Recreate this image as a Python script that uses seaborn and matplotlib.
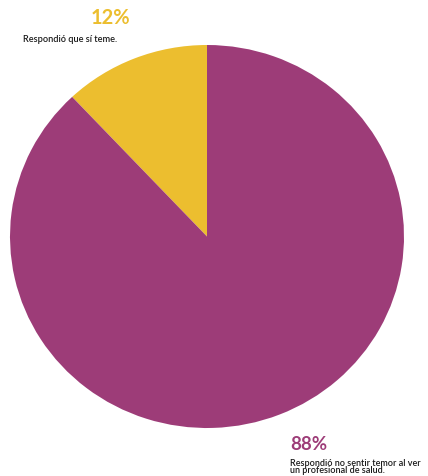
import matplotlib
matplotlib.use("Agg")
import matplotlib.pyplot as plt
import seaborn as sns

# Survey answers: share of respondents
labels = ["Respondió que sí teme.",
          "Respondió no sentir temor al ver\nun profesional de salud."]
values = [12, 88]
pct_labels = ["12%", "88%"]
colors = ["#ECBE2F", "#9D3C78"]

sns.set_theme(style="white")
plt.rcParams["font.family"] = ["Lato", "DejaVu Sans"]

W, H = 428, 476
fig = plt.figure(figsize=(W / 100, H / 100), dpi=100)
fig.patch.set_facecolor("white")

# pie area in pixel terms: left 10, right 404, top 45, bottom 428
ax = fig.add_axes([10 / W, 1 - 428 / H, 394 / W, 383 / H])
ax.pie(values, colors=colors, startangle=90, counterclock=True,
       wedgeprops=dict(linewidth=0))
ax.set_aspect("auto")
ax.set_xlim(-1, 1)
ax.set_ylim(-1, 1)
ax.axis("off")


def px(x, y):
    return x / W, 1 - y / H


fig.text(*px(110, 18), pct_labels[0], color=colors[0], fontsize=14.5,
         fontweight="bold", ha="center", va="center")
fig.text(*px(23, 40), labels[0], color="#1a1a1a", fontsize=6.6,
         fontweight="semibold", ha="left", va="center")

fig.text(*px(290, 445), pct_labels[1], color=colors[1], fontsize=13.5,
         fontweight="bold", ha="left", va="center")
fig.text(*px(290, 467), labels[1], color="#1a1a1a", fontsize=6.5,
         fontweight="semibold", ha="left", va="center", linespacing=0.8)

fig.savefig("out.png", dpi=100, facecolor="white")
